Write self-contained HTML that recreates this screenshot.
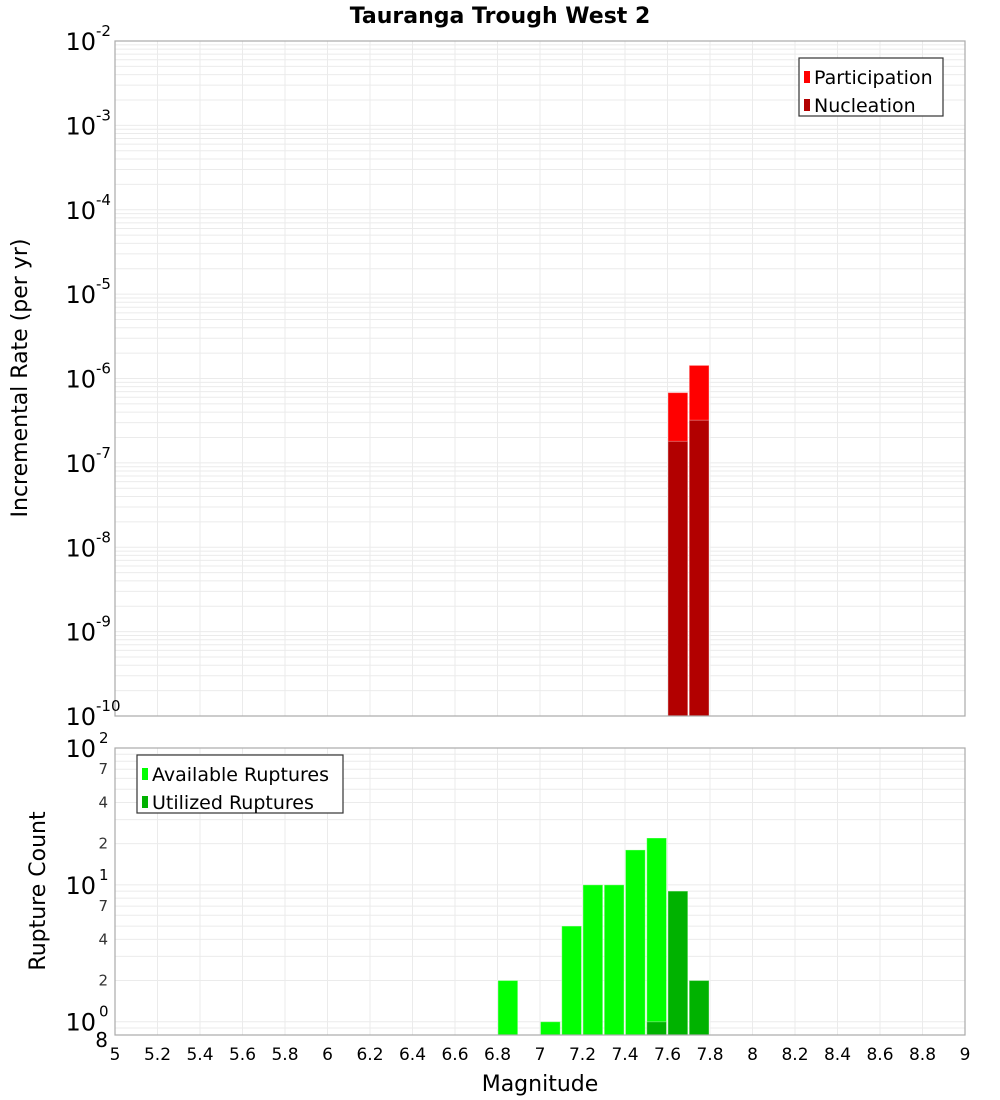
<!DOCTYPE html>
<html><head><meta charset="utf-8"><style>
body{margin:0;background:#fff;}
svg{display:block;font-family:"DejaVu Sans","Liberation Sans",sans-serif;}
</style></head><body>
<svg id="c" width="1000" height="1100" xmlns="http://www.w3.org/2000/svg">
<text x="500" y="23" text-anchor="middle" font-size="22" font-weight="bold">Tauranga Trough West 2</text>
<text transform="translate(27,378) rotate(-90)" text-anchor="middle" font-size="22">Incremental Rate (per yr)</text>
<text transform="translate(45,891) rotate(-90)" text-anchor="middle" font-size="22">Rupture Count</text>
<text x="540" y="1091" text-anchor="middle" font-size="22">Magnitude</text>
</svg>
<script>
const binCenters=[7.65,7.75];
const participation=[6.8e-7,1.43e-6];
const nucleation=[1.8e-7,3.2e-7];
const countBins=[6.85,7.05,7.15,7.25,7.35,7.45,7.55,7.65,7.75];
const available=[2,1,5,10,10,18,22,9,2];
const utilizedBins=[7.55,7.65,7.75];
const utilized=[1,9,2];
const xTicks=[5,5.2,5.4,5.6,5.8,6,6.2,6.4,6.6,6.8,7,7.2,7.4,7.6,7.8,8,8.2,8.4,8.6,8.8,9];
const topDecades=[-10,-9,-8,-7,-6,-5,-4,-3,-2];
const botMinorLabels=[2,4,7,20,40,70];

const svg=document.getElementById('c');
const NS='http://www.w3.org/2000/svg';
function mk(tag,attrs,parent){const e=document.createElementNS(NS,tag);for(const k in attrs)e.setAttribute(k,attrs[k]);(parent||svg).appendChild(e);return e;}
const L=115,R=965;
const X=v=>L+(v-5)/(9-5)*(R-L);
const T0=41,T1=716;
const YT=v=>T1-(Math.log10(v)+10)/8*(T1-T0);
const B0=748,B1=1035,bMin=0.8,bMax=100;
const YB=v=>B1-(Math.log10(v)-Math.log10(bMin))/(Math.log10(bMax)-Math.log10(bMin))*(B1-B0);

// top grid
const gt=mk('g',{});

for(let d=-10;d<-2;d++)for(let m=1;m<10;m++){const y=YT(m*Math.pow(10,d));mk('line',{x1:L,x2:R,y1:y,y2:y,stroke:'#ebebeb','stroke-width':1},gt);}
xTicks.forEach(t=>{const x=X(t);mk('line',{x1:x,x2:x,y1:T0,y2:T1,stroke:'#ebebeb','stroke-width':1},gt);});
// bottom grid
const gb=mk('g',{});

for(let d=-1;d<2;d++)for(let m=1;m<10;m++){const v=m*Math.pow(10,d);if(v<bMin||v>bMax)continue;const y=YB(v);mk('line',{x1:L,x2:R,y1:y,y2:y,stroke:'#ebebeb','stroke-width':1},gb);}
xTicks.forEach(t=>{const x=X(t);mk('line',{x1:x,x2:x,y1:B0,y2:B1,stroke:'#ebebeb','stroke-width':1},gb);});

const bw=X(5.1)-X(5);
function bar(c,v,yf,base,fill,name){const x=X(c-0.05)+0.5;const y=yf(v);const r=mk('rect',{x:x,y:y,width:bw-1.5,height:base-y,fill:fill,stroke:'rgba(255,255,255,0.35)','stroke-width':1});}
binCenters.forEach((c,i)=>bar(c,participation[i],YT,T1,'#ff0000','participation-bar'));
binCenters.forEach((c,i)=>bar(c,nucleation[i],YT,T1,'#b20000','nucleation-bar'));
countBins.forEach((c,i)=>bar(c,available[i],YB,B1,'#00ff00','available-bar'));
utilizedBins.forEach((c,i)=>bar(c,utilized[i],YB,B1,'#00b200','utilized-bar'));

// frames
const f1=mk('rect',{x:L,y:T0,width:R-L,height:T1-T0,fill:'none',stroke:'#aaa','stroke-width':1.2});

const f2=mk('rect',{x:L,y:B0,width:R-L,height:B1-B0,fill:'none',stroke:'#aaa','stroke-width':1.2});


// top y labels
topDecades.forEach(d=>{const y=YT(Math.pow(10,d));const t=mk('text',{x:96,y:y+9,'text-anchor':'end','font-size':24});t.textContent='10';

const s=mk('text',{x:96,y:y-5,'font-size':15});s.textContent=String(d);
});
// bottom y labels
[[0,1],[1,10],[2,100]].forEach(([e,v])=>{const y=YB(v);const t=mk('text',{x:96,y:y+9,'text-anchor':'end','font-size':24});t.textContent='10';

const s=mk('text',{x:99,y:y-5,'font-size':15});s.textContent=String(e);
});
botMinorLabels.forEach(v=>{const y=YB(v);const t=mk('text',{x:108,y:y+5,'text-anchor':'end','font-size':15,fill:'#333'});t.textContent=String(v%10===0?v/10:v);
});
{const t=mk('text',{x:108,y:B1+12,'text-anchor':'end','font-size':20});t.textContent='8';
}
// x labels
xTicks.forEach(v=>{const t=mk('text',{x:X(v),y:1060,'text-anchor':'middle','font-size':17});t.textContent=String(v);
});

// legends
function legend(x,y,w,items,name){const g=mk('g',{});
mk('rect',{x:x,y:y,width:w,height:58,fill:'#fff',stroke:'#333','stroke-width':1.2},g);
items.forEach(([lab,col],i)=>{const yy=y+19+i*28;mk('rect',{x:x+5,y:yy-6,width:6,height:12,fill:col},g);const t=mk('text',{x:x+15,y:yy+7,'font-size':19},g);t.textContent=lab;});}
legend(799,58,144,[['Participation','#ff0000'],['Nucleation','#b20000']],'rate-legend');
legend(137,755,206,[['Available Ruptures','#00ff00'],['Utilized Ruptures','#00b200']],'count-legend');
</script>
</body></html>
